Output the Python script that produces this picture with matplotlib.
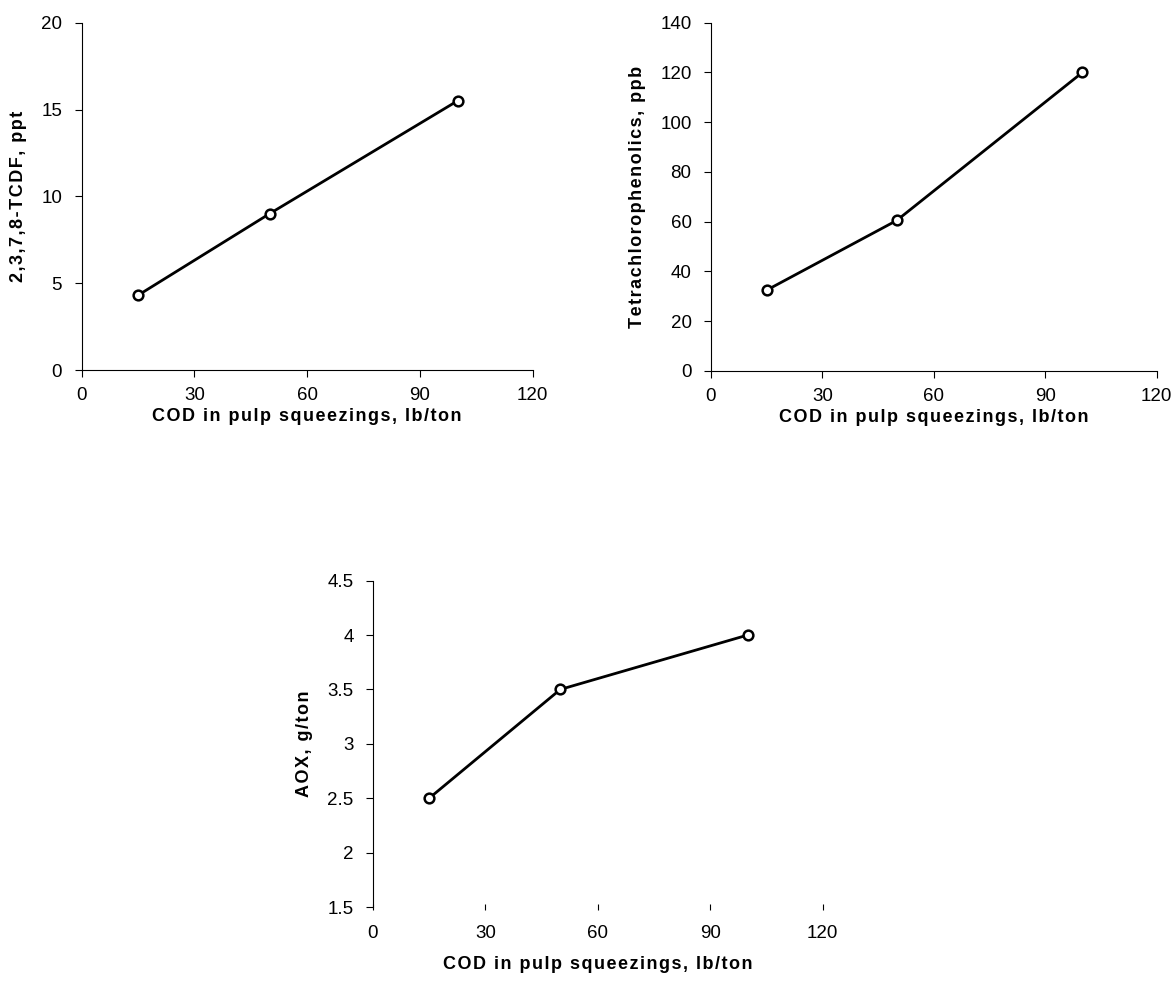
import matplotlib.pyplot as plt

plt.rcParams['font.family'] = ['Liberation Sans', 'DejaVu Sans']

cod = [15, 50, 100]
tcdf = [4.3, 9.0, 15.5]
tcp = [32.5, 60.5, 120.0]
aox = [2.5, 3.5, 4.0]

x_ticks = [0, 30, 60, 90, 120]
xlabel = "COD in pulp squeezings, lb/ton"


def spaced(s):
    # the scanned labels have wide letter spacing
    return "\u200a".join(s)


def style_axes(ax, ylabel, yticks, ylim, hide_bottom=False):
    ax.spines['top'].set_visible(False)
    ax.spines['right'].set_visible(False)
    ax.spines['left'].set_linewidth(0.8)
    ax.spines['bottom'].set_linewidth(0.8)
    if hide_bottom:
        ax.spines['bottom'].set_visible(False)
    ax.set_xlim(0, 120)
    ax.set_ylim(*ylim)
    ax.set_xticks(x_ticks)
    ax.set_yticks(yticks)
    ax.set_yticklabels([f"{t:g}" for t in yticks])
    ax.tick_params(axis='both', labelsize=13.5, length=5, width=0.8)
    ax.tick_params(axis='y', pad=9)
    ax.tick_params(axis='x', pad=7)
    ax.set_xlabel(spaced(xlabel), fontsize=13, fontweight='bold', labelpad=3)
    ax.set_ylabel(spaced(ylabel), fontsize=13, fontweight='bold', labelpad=10)


def draw(ax, x, y):
    ax.plot(x, y, color='black', linewidth=2, marker='o', markersize=7,
            markerfacecolor='white', markeredgecolor='black',
            markeredgewidth=1.8, clip_on=False)


fig = plt.figure(figsize=(11.75, 9.83), dpi=100)

ax1 = fig.add_axes([0.0694, 0.6236, 0.384, 0.3533])
draw(ax1, cod, tcdf)
style_axes(ax1, "2,3,7,8-TCDF, ppt", [0, 5, 10, 15, 20], (0, 20))

ax2 = fig.add_axes([0.6051, 0.6226, 0.3793, 0.3543])
draw(ax2, cod, tcp)
style_axes(ax2, "Tetrachlorophenolics, ppb", [0, 20, 40, 60, 80, 100, 120, 140], (0, 140))

ax3 = fig.add_axes([0.3174, 0.0773, 0.3827, 0.332])
draw(ax3, cod, aox)
style_axes(ax3, "AOX, g/ton", [1.5, 2, 2.5, 3, 3.5, 4, 4.5], (1.5, 4.5), hide_bottom=True)
ax3.tick_params(axis='x', direction='inout', length=4, pad=11)
ax3.xaxis.labelpad = 10

fig.savefig("out.png", dpi=100, facecolor='white')
